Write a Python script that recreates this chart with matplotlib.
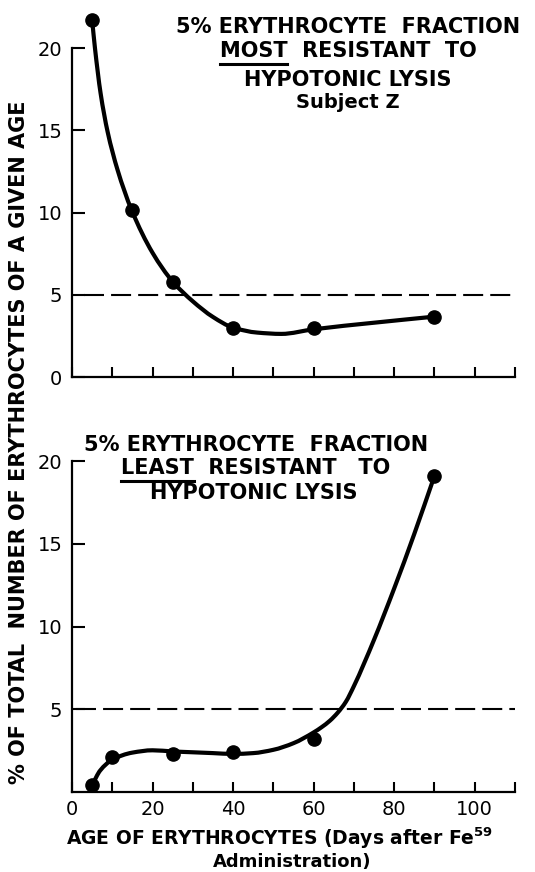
import numpy as np
import matplotlib
matplotlib.use("Agg")
import matplotlib.pyplot as plt
from matplotlib.path import Path
from matplotlib.patches import PathPatch
from matplotlib.lines import Line2D

# measured points (age in days, % of erythrocytes)
age = [5, 15, 25, 40, 60, 90]
most_resistant = [21.7, 10.15, 5.75, 3.0, 3.0, 3.67]

age_low = [5, 10, 25, 40, 60, 90]
least_resistant = [0.42, 2.1, 2.3, 2.4, 3.18, 19.1]

# hand drawn curves
most_curve_x = [5, 5.7, 7.1, 8.85, 11.3, 14.8, 20, 25, 30, 35, 40, 46, 52, 60, 75, 90]
most_curve_y = [21.7, 20.0, 17.25, 14.9, 12.6, 10.15, 7.55, 5.8, 4.6, 3.65, 3.0, 2.7, 2.62, 2.9, 3.3, 3.67]

least_curve_x = [5, 7, 10, 15, 20, 25, 30, 35, 40, 45, 50, 55, 60, 62, 64, 66, 68, 70, 75, 80, 85, 90]
least_curve_y = [0.42, 1.3, 1.95, 2.38, 2.52, 2.45, 2.4, 2.35, 2.3, 2.35, 2.55, 2.95, 3.6, 3.92,
                 4.3, 4.8, 5.45, 6.4, 9.2, 12.3, 15.6, 19.1]

ref_level = 5
yticks = [0, 5, 10, 15, 20]
xticks_major = [0, 20, 40, 60, 80, 100]
xticks_minor = [10, 30, 50, 70, 90, 110]

plt.rcParams['font.family'] = ['DejaVu Sans']


def smooth_path(xs, ys):
    # monotone cubic hermite (fritsch-carlson) drawn as bezier segments
    x = np.asarray(xs, float)
    y = np.asarray(ys, float)
    h = np.diff(x)
    d = np.diff(y) / h
    m = np.zeros_like(x)
    m[0], m[-1] = d[0], d[-1]
    for k in range(1, len(x) - 1):
        if d[k - 1] * d[k] <= 0:
            m[k] = 0.0
        else:
            w1 = 2 * h[k] + h[k - 1]
            w2 = h[k] + 2 * h[k - 1]
            m[k] = (w1 + w2) / (w1 / d[k - 1] + w2 / d[k])
    verts = [(x[0], y[0])]
    codes = [Path.MOVETO]
    for k in range(len(x) - 1):
        verts += [(x[k] + h[k] / 3, y[k] + m[k] * h[k] / 3),
                  (x[k + 1] - h[k] / 3, y[k + 1] - m[k + 1] * h[k] / 3),
                  (x[k + 1], y[k + 1])]
        codes += [Path.CURVE4] * 3
    return Path(verts, codes)


def style_axes(ax, ymax, show_xlabels, ylabels):
    ax.set_xlim(0, 110)
    ax.set_ylim(0, ymax)
    for s in ['top', 'right']:
        ax.spines[s].set_visible(False)
    ax.spines['left'].set_bounds(0, 20)
    ax.spines['left'].set_linewidth(1.6)
    ax.spines['bottom'].set_linewidth(1.6)
    ax.set_xticks(xticks_major)
    ax.set_xticks(xticks_minor, minor=True)
    if show_xlabels:
        ax.set_xticklabels([str(t) for t in xticks_major])
    else:
        ax.set_xticklabels([])
    ax.set_yticks(ylabels)
    ax.set_yticklabels([str(t) for t in ylabels])
    ax.tick_params(axis='x', which='both', direction='in', length=7, width=1.5,
                   pad=6, labelsize=14)
    ax.tick_params(axis='y', direction='in', length=9, width=1.5, pad=7, labelsize=14)
    ax.patch.set_visible(False)


def underline(fig, text_artist, word, dy=3):
    r = fig.canvas.get_renderer()
    bb = text_artist.get_window_extent(r)
    tmp = fig.text(0, 0, word, fontsize=text_artist.get_fontsize(), fontweight='bold')
    w = tmp.get_window_extent(r).width
    tmp.remove()
    W, H = fig.bbox.width, fig.bbox.height
    y = (bb.y0 - dy) / H
    fig.add_artist(Line2D([bb.x0 / W, (bb.x0 + w) / W], [y, y], color='black', lw=2.2,
                          transform=fig.transFigure))


fig = plt.figure(figsize=(5.35, 8.72), dpi=100)
W, H = 535.0, 872.0

ax1 = fig.add_axes([72 / W, 1 - 377 / H, 443 / W, 22.5 * 16.45 / H])
ax2 = fig.add_axes([72 / W, 1 - 792 / H, 443 / W, 21 * 16.55 / H])

style_axes(ax1, 22.5, False, yticks)
style_axes(ax2, 21, True, yticks[1:])

dash = (0, (9.6, 3.4))

# top panel
ax1.plot([3, 109], [ref_level, ref_level], color='black', lw=1.5, linestyle=dash)
ax1.add_patch(PathPatch(smooth_path(most_curve_x, most_curve_y), fill=False, lw=3,
                        edgecolor='black', capstyle='round'))
ax1.plot(age, most_resistant, 'o', color='black', markersize=9.5, clip_on=False)

# bottom panel
ax2.plot([1, 110], [ref_level, ref_level], color='black', lw=1.5, linestyle=dash)
ax2.add_patch(PathPatch(smooth_path(least_curve_x, least_curve_y), fill=False, lw=3,
                        edgecolor='black', capstyle='round'))
ax2.plot(age_low, least_resistant, 'o', color='black', markersize=9.5, clip_on=False)

# titles inside the panels
tfs = 15
fig.text(348 / W, 1 - 27 / H, "5% ERYTHROCYTE  FRACTION", ha='center', va='center',
         fontsize=tfs, fontweight='bold')
t = fig.text(348 / W, 1 - 51 / H, "MOST  RESISTANT  TO", ha='center', va='center',
             fontsize=tfs, fontweight='bold')
fig.text(348 / W, 1 - 80 / H, "HYPOTONIC LYSIS", ha='center', va='center',
         fontsize=tfs, fontweight='bold')
fig.text(348 / W, 1 - 103 / H, "Subject Z", ha='center', va='center',
         fontsize=tfs - 1, fontweight='bold')
underline(fig, t, "MOST")

fig.text(256 / W, 1 - 445 / H, "5% ERYTHROCYTE  FRACTION", ha='center', va='center',
         fontsize=tfs, fontweight='bold')
t2 = fig.text(256 / W, 1 - 468 / H, "LEAST  RESISTANT   TO", ha='center', va='center',
              fontsize=tfs, fontweight='bold')
fig.text(254 / W, 1 - 493 / H, "HYPOTONIC LYSIS", ha='center', va='center',
         fontsize=tfs, fontweight='bold')
underline(fig, t2, "LEAST")

# axis labels
fig.text(19 / W, 1 - 442 / H, "% OF TOTAL  NUMBER OF ERYTHROCYTES OF A GIVEN AGE",
         rotation=90, ha='center', va='center', fontsize=15, fontweight='bold')
fig.text(280 / W, 1 - 838 / H, r"AGE OF ERYTHROCYTES (Days after Fe$^{\mathbf{59}}$",
         ha='center', va='center', fontsize=13.5, fontweight='bold')
fig.text(292 / W, 1 - 862 / H, "Administration)", ha='center', va='center',
         fontsize=13, fontweight='bold')

fig.savefig("out.png", dpi=100)
